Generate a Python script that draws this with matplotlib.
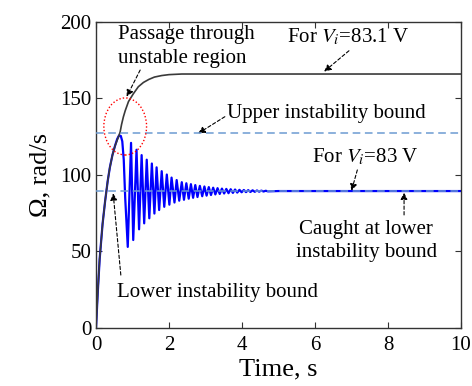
import matplotlib.pyplot as plt
from matplotlib.patches import Ellipse

plt.rcParams['font.family'] = ['Liberation Serif', 'DejaVu Serif']
plt.rcParams['mathtext.fontset'] = 'stix'

# --- Speed response for Vi = 83.1 V (passes through unstable region) ---
t_831 = [0, 0.05, 0.1, 0.18, 0.25, 0.32, 0.38, 0.45, 0.52, 0.6, 0.66, 0.70,
         0.75, 0.80, 0.89, 1.02, 1.16, 1.3, 1.45, 1.6, 1.8, 2.0, 2.35, 2.8, 3.5, 10]
w_831 = [0, 24, 45, 68, 83, 96, 105, 113, 119, 124, 128, 133,
         138, 142, 148, 153, 157.7, 160.5, 162.5, 164, 165, 165.6, 166, 166, 166, 166]

# --- Speed response for Vi = 83 V (caught at lower bound) ---
t_rise = [0, 0.05, 0.1, 0.18, 0.25, 0.32, 0.38, 0.45, 0.52, 0.58, 0.63, 0.68, 0.72, 0.76, 0.80]
w_rise = [0, 24, 45, 68, 83, 96, 105, 113, 119, 123.5, 125.8, 125.5, 122, 110, 85]

# successive troughs / peaks of the oscillation
t_osc = [0.87, 0.96, 1.02, 1.11, 1.18, 1.25, 1.32, 1.39, 1.46, 1.53, 1.60, 1.66,
         1.73, 1.80, 1.87, 1.94, 2.01, 2.07, 2.15, 2.21, 2.28, 2.35,
         2.41, 2.475, 2.54, 2.60, 2.66, 2.72, 2.78, 2.845, 2.91, 2.97, 3.03, 3.09,
         3.15, 3.21, 3.27, 3.33, 3.39, 3.45, 3.51, 3.57, 3.63, 3.69, 3.75, 3.81,
         3.87, 3.93, 3.99, 4.05, 4.11, 4.17, 4.23, 4.29, 4.35, 4.41, 4.47, 4.53,
         4.59, 4.65, 4.71, 5.0, 10]
w_osc = [53, 121, 57.5, 116.5, 64.5, 113, 68.4, 110, 71.7, 107.5, 74.8, 105,
         77.1, 102.5, 79.2, 100.3, 80.6, 98.3, 82, 96.7, 83.2, 95.3,
         83.8, 94.6, 84.5, 94.0, 85.1, 93.4, 85.6, 92.9, 86.1, 92.5, 86.5, 92.1,
         86.9, 91.7, 87.3, 91.4, 87.6, 91.1, 87.9, 90.9, 88.1, 90.7, 88.3, 90.5,
         88.5, 90.3, 88.7, 90.2, 88.8, 90.1, 88.9, 90.0, 89.0, 89.9, 89.1, 89.8,
         89.2, 89.7, 89.3, 89.5, 89.5]

upper_bound = 127.5
lower_bound = 89.5

fig = plt.figure(figsize=(4.72, 3.86), dpi=100)
ax = fig.add_axes([0.2034, 0.1503, 0.7733, 0.7927])

ax.plot(t_831, w_831, color='#3a3a3a', lw=1.2, zorder=3)
ax.plot(t_rise + t_osc, w_rise + w_osc, color='#0000ff', lw=1.6, zorder=2)

ax.axhline(upper_bound, color='#6c9bd2', lw=1.1, ls=(0, (5, 3)), zorder=4)
ax.axhline(lower_bound, color='#6c9bd2', lw=1.1, ls=(0, (5, 3)), zorder=4)

ax.add_patch(Ellipse((0.80, 131.7), 1.17, 37.3, fill=False, ec='red',
                     lw=1.0, ls=(0, (1, 1.5)), zorder=5))

arrow = dict(arrowstyle='-|>', color='k', lw=0.8, ls=(0, (3, 2)),
             mutation_scale=10, shrinkA=0, shrinkB=0)
fs = 15

ax.text(0.60, 184, 'Passage through\nunstable region', fontsize=fs,
        ha='left', va='center', linespacing=1.3)
ax.annotate('', xy=(0.84, 151.2), xytext=(1.21, 168.6), arrowprops=arrow)

ax.text(5.22, 190.4, r'For $V_i$=83.1 V', fontsize=fs, ha='left', va='center')
ax.annotate('', xy=(6.25, 167.6), xytext=(6.93, 181.2), arrowprops=arrow)

ax.text(3.58, 140.3, 'Upper instability bound', fontsize=fs, ha='left', va='center')
ax.annotate('', xy=(2.80, 127.2), xytext=(3.53, 138.1), arrowprops=arrow)

ax.text(5.91, 111.8, r'For $V_i$=83 V', fontsize=fs, ha='left', va='center')
ax.annotate('', xy=(7.0, 89.7), xytext=(7.16, 103.3), arrowprops=arrow)

ax.text(7.40, 56.8, 'Caught at lower\ninstability bound', fontsize=fs,
        ha='center', va='center', linespacing=1.3)
ax.annotate('', xy=(8.44, 88.5), xytext=(8.44, 73.9), arrowprops=arrow)

ax.text(0.58, 23.1, 'Lower instability bound', fontsize=fs, ha='left', va='center')
ax.annotate('', xy=(0.47, 88), xytext=(0.68, 34.6), arrowprops=arrow)

ax.set_xlim(0, 10)
ax.set_ylim(0, 200)
ax.set_xticks([0, 2, 4, 6, 8, 10])
ax.set_yticks([0, 50, 100, 150, 200])
ax.tick_params(direction='in', top=True, right=True, length=4, width=0.8,
               labelsize=fs, color='#333333')
ax.tick_params(axis='x', pad=6)
for s in ax.spines.values():
    s.set_color('#333333')
    s.set_linewidth(1.0)

ax.set_xlabel('Time, s', fontsize=19, labelpad=2)
ax.set_ylabel('Ω, rad/s', fontsize=19, labelpad=6)

fig.savefig('out.png', dpi=100)
